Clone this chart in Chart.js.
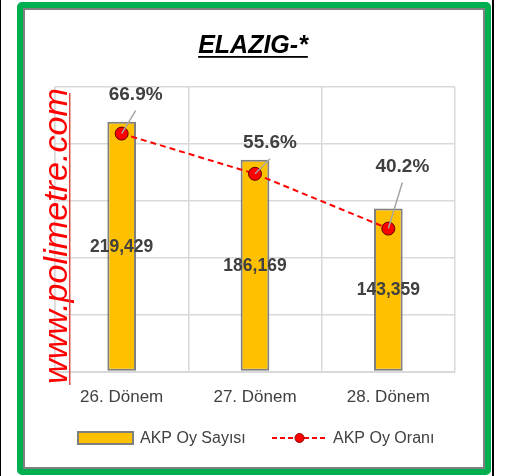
<!DOCTYPE html>
<html>
<head>
<meta charset="utf-8">
<script src="https://cdn.jsdelivr.net/npm/chart.js@4/dist/chart.umd.min.js"></script>
<style>
html,body{margin:0;padding:0;background:#fff;width:510px;height:476px;overflow:hidden}
#bl{position:absolute;left:0;top:0;width:1px;height:476px;background:#000}
#br{position:absolute;left:492px;top:0;width:2px;height:476px;background:#000}
#frame{position:absolute;left:17px;top:2px;width:474px;height:473px;box-sizing:border-box;border:6px solid #00B050;border-radius:5px}
#inner{position:absolute;left:0;top:0;right:0;bottom:0;border:2px solid #808080}
#wrap{position:absolute;left:0;top:0;width:510px;height:476px}
</style>
</head>
<body>
<div id="bl"></div><div id="br"></div>
<div id="frame"><div id="inner"></div></div>
<div id="wrap"><canvas id="c" width="510" height="476"></canvas></div>
<script>
// ---- data ----
const categories = ['26. Dönem', '27. Dönem', '28. Dönem'];
const voteCounts = [219429, 186169, 143359];
const voteShares = [66.9, 55.6, 40.2];
const countLabels = ['219,429', '186,169', '143,359'];
const shareLabels = ['66.9%', '55.6%', '40.2%'];
const seriesNames = ['AKP Oy Sayısı', 'AKP Oy Oranı'];
const titleText = 'ELAZIG-*';
const watermarkText = 'www.polimetre.com';

// ---- styles / layout ----
const FONT = '"Liberation Sans", Arial, sans-serif';
const TXT = '#404040';
const GRID = '#D9D9D9';
const BAR_FILL = '#FFC000';
const BAR_EDGE = '#7F7F7F';
const LINE_RED = '#FF0000';
const shareLabelOffsets = [[14, -39], [15, -31], [14, -62]];

const decor = {
  id: 'decor',
  afterDatasetsDraw(chart) {
    const ctx = chart.ctx;
    const barMeta = chart.getDatasetMeta(1);
    const lineMeta = chart.getDatasetMeta(0);
    ctx.save();
    ctx.font = 'bold 17.5px ' + FONT;
    ctx.fillStyle = TXT;
    ctx.textAlign = 'center';
    ctx.textBaseline = 'middle';
    barMeta.data.forEach((b, i) => {
      ctx.fillText(countLabels[i], b.x, (b.y + b.base) / 2 + 1);
    });
    lineMeta.data.forEach((p, i) => {
      const [dx, dy] = shareLabelOffsets[i];
      const lx = p.x + dx, ly = p.y + dy;
      ctx.strokeStyle = '#A6A6A6';
      ctx.lineWidth = 1.5;
      ctx.beginPath();
      ctx.moveTo(lx, ly + 16);
      ctx.lineTo(p.x, p.y);
      ctx.stroke();
      ctx.font = 'bold 19px ' + FONT;
      ctx.fillStyle = TXT;
      ctx.fillText(shareLabels[i], lx, ly);
    });
    ctx.restore();
  },
  afterDraw(chart) {
    const ctx = chart.ctx;
    ctx.save();
    ctx.font = 'italic bold 25px ' + FONT;
    ctx.fillStyle = '#000';
    ctx.textAlign = 'center';
    ctx.textBaseline = 'alphabetic';
    const tx = 253, ty = 53;
    ctx.fillText(titleText, tx, ty);
    const tw = ctx.measureText(titleText).width;
    ctx.fillRect(tx - tw / 2, ty + 3, tw, 1.8);
    ctx.save();
    ctx.translate(67, 236);
    ctx.rotate(-Math.PI / 2);
    let fs = 34;
    ctx.font = 'italic ' + fs + 'px ' + FONT;
    const w = ctx.measureText(watermarkText).width;
    fs = fs * 296 / w;
    ctx.font = 'italic ' + fs + 'px ' + FONT;
    ctx.fillStyle = '#FF0000';
    ctx.textAlign = 'center';
    ctx.fillText(watermarkText, 0, 0);
    ctx.restore();
    ctx.strokeStyle = '#E04848';
    ctx.lineWidth = 1.5;
    ctx.beginPath();
    ctx.moveTo(69.7, 93);
    ctx.lineTo(69.7, 385);
    ctx.stroke();
    const ly = 438;
    ctx.fillStyle = BAR_FILL;
    ctx.fillRect(78, 432, 55, 12);
    ctx.strokeStyle = BAR_EDGE;
    ctx.lineWidth = 2;
    ctx.strokeRect(78, 432, 55, 12);
    ctx.font = '16px ' + FONT;
    ctx.fillStyle = TXT;
    ctx.textAlign = 'left';
    ctx.textBaseline = 'middle';
    ctx.fillText(seriesNames[0], 140, ly + 1);
    ctx.strokeStyle = LINE_RED;
    ctx.lineWidth = 2;
    ctx.setLineDash([5, 3]);
    ctx.beginPath();
    ctx.moveTo(272, ly);
    ctx.lineTo(327, ly);
    ctx.stroke();
    ctx.setLineDash([]);
    ctx.fillStyle = LINE_RED;
    ctx.beginPath();
    ctx.arc(299.5, ly, 4.5, 0, Math.PI * 2);
    ctx.fill();
    ctx.strokeStyle = '#8B0000';
    ctx.lineWidth = 1;
    ctx.stroke();
    ctx.fillStyle = TXT;
    ctx.fillText(seriesNames[1], 333, ly + 1);
    ctx.restore();
  }
};

new Chart(document.getElementById('c'), {
  data: {
    labels: categories,
    datasets: [
      {
        type: 'line',
        label: seriesNames[1],
        data: voteShares,
        yAxisID: 'y2',
        order: 0,
        borderColor: LINE_RED,
        borderWidth: 2,
        borderDash: [6, 4],
        pointRadius: 6.5,
        pointBackgroundColor: LINE_RED,
        pointBorderColor: '#600000',
        pointBorderWidth: 1,
        tension: 0
      },
      {
        type: 'bar',
        label: seriesNames[0],
        data: voteCounts,
        yAxisID: 'y',
        order: 1,
        backgroundColor: BAR_FILL,
        borderColor: BAR_EDGE,
        borderWidth: 2,
        borderSkipped: false,
        categoryPercentage: 1,
        barPercentage: 0.215
      }
    ]
  },
  options: {
    responsive: false,
    animation: false,
    events: [],
    layout: { padding: { left: 55, right: 55, top: 87, bottom: 52 } },
    plugins: { legend: { display: false }, tooltip: { enabled: false }, title: { display: false } },
    scales: {
      x: {
        grid: { color: GRID, lineWidth: 1.5, drawTicks: false, offset: true },
        border: { color: GRID, width: 2 },
        ticks: { color: TXT, font: { family: FONT, size: 17 }, padding: 16 }
      },
      y: {
        position: 'left',
        min: 0, max: 250000,
        ticks: { display: false, stepSize: 50000 },
        grid: { color: GRID, lineWidth: 1.5, drawTicks: false },
        border: { color: GRID, width: 1.5 }
      },
      y2: {
        display: false,
        min: 0, max: 80
      }
    }
  },
  plugins: [decor]
});
</script>
</body>
</html>
